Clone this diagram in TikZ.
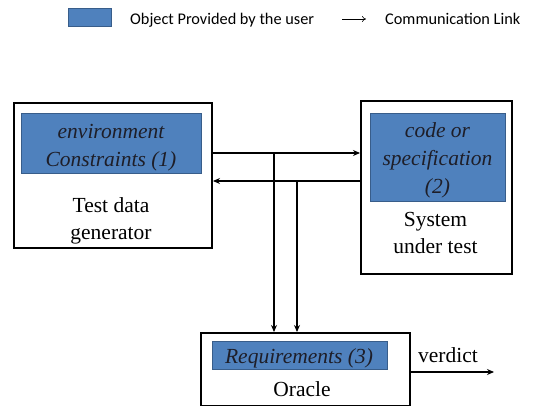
\documentclass[tikz,border=0pt]{standalone}
\usepackage{fontspec}
\setmainfont{Liberation Serif}
\newfontfamily\legendfont{Carlito}
\usetikzlibrary{arrows.meta}
\definecolor{userblue}{RGB}{79,129,189}
\definecolor{userborder}{RGB}{56,93,138}
\definecolor{italtext}{RGB}{30,30,40}
\begin{document}
\begin{tikzpicture}[x=1pt,y=-1pt,
  outerbox/.style={draw=black,line width=2pt,fill=white,anchor=north west,inner sep=0pt},
  userbox/.style={draw=userborder,line width=0.8pt,fill=userblue,anchor=north west,inner sep=0pt},
  boxtext/.style={font=\fontsize{21.5}{27}\selectfont,align=center,inner sep=0pt},
  usertext/.style={font=\fontsize{21.5}{28}\selectfont\itshape,text=italtext,align=center,inner sep=0pt},
  legendtext/.style={font=\legendfont\fontsize{16.3}{19}\selectfont,anchor=base west,inner sep=0pt},
  link/.style={line width=2pt,-{Stealth[length=7pt,width=6pt]}}
]
\useasboundingbox (0,0) rectangle (536,406);
% legend
\node[userbox,minimum width=43pt,minimum height=18pt] (legbox) at (68,8) {};
\node[legendtext] (legobj) at (130,24.5) {Object Provided by the user};
\coordinate (lega) at (342,19);
\coordinate (legb) at (366,19);
\draw[line width=0.6pt,-{To[length=4pt,width=6pt]}] (lega) -- (legb);
\node[legendtext] (leglink) at (385,24.5) {Communication Link};
% Test data generator
\node[outerbox,minimum width=198pt,minimum height=145pt] (tdg) at (13,102) {};
\node[userbox,minimum width=180pt,minimum height=60pt] (env) at (21,113) {};
\node[usertext] (envt) at (111,148) {environment\\Constraints (1)};
\node[boxtext] (tdgt) at (111,221) {Test data\\generator};
% System under test
\node[outerbox,minimum width=151pt,minimum height=173pt] (sut) at (360,100) {};
\node[userbox,minimum width=135pt,minimum height=88pt] (code) at (370,113) {};
\node[usertext] (codet) at (437.5,160.5) {code or\\specification\\(2)};
\node[boxtext] (sutt) at (435.5,233) {System\\under test};
% Oracle
\node[outerbox,minimum width=209pt,minimum height=73pt] (oracle) at (200,332) {};
\node[userbox,minimum width=175pt,minimum height=28pt] (req) at (212,341) {};
\node[usertext] (reqt) at (299,358) {Requirements (3)};
\node[boxtext] (oraclet) at (302,389) {Oracle};
% connectors
\coordinate (r1) at (0,153);
\coordinate (r2) at (0,181);
\draw[link] (tdg.east |- r1) -- (sut.west |- r1);
\draw[link] (sut.west |- r2) -- (tdg.east |- r2);
\coordinate (v1) at (274,153);
\coordinate (v2) at (297,181);
\draw[link] (v1) -- (v1 |- oracle.north);
\draw[link] (v2) -- (v2 |- oracle.north);
\coordinate (r3) at (0,372);
\coordinate (vend) at (494,372);
\draw[link] (oracle.east |- r3) -- (vend);
\node[boxtext,anchor=west] (verdict) at (418,355) {verdict};
\end{tikzpicture}
\end{document}
